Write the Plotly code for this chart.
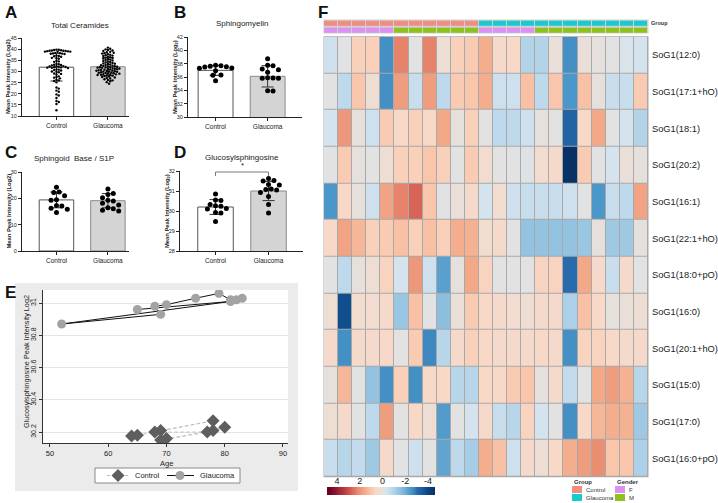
import numpy as np
import plotly.graph_objects as go

W, H = 718, 503
FONT = "Liberation Sans, Arial, sans-serif"

def px(x):
    return x / W

def py(y):
    return 1 - y / H

groups = ["Control", "Glaucoma"]

# ---------------- Panel A: Total Ceramides ----------------
A_ctrl = [39.8, 39.7, 39.6, 39.5, 39.4, 39.3, 39.3, 39.2, 39.1, 39.0, 38.9, 38.9, 38.8,
          38.3, 38.2, 38.1, 38.0, 37.9, 37.8,
          37.1, 36.9, 36.8, 36.6,
          36.1, 35.9, 35.7,
          34.7, 34.5, 34.3,
          33.4, 33.2, 33.0, 32.9, 32.7,
          32.4, 32.3, 32.2, 32.1, 32.0, 31.9, 31.8, 31.7, 31.6, 31.5,
          30.9, 30.8, 30.6, 30.4,
          30.0, 29.8, 29.6,
          29.1, 28.9, 28.6,
          27.8, 27.5, 27.2, 26.9,
          26.3, 26.0, 25.7,
          25.1,
          22.8, 22.3,
          21.4, 20.9,
          19.7, 19.2,
          18.1,
          16.7, 16.3,
          15.4,
          12.6]
A_glc = [40.7, 40.2, 39.9, 39.6, 39.4, 39.2,
         38.8, 38.6, 38.4, 38.2, 38.0,
         37.7, 37.5, 37.3, 37.1, 36.9,
         36.6, 36.4, 36.2, 36.0, 35.8,
         35.5, 35.3, 35.1, 34.9, 34.7,
         34.4, 34.2, 34.0, 33.8, 33.6, 33.5,
         33.3, 33.1, 32.9, 32.8, 32.6, 32.5, 32.3,
         32.2, 32.1, 32.0, 31.9, 31.8, 31.7, 31.6, 31.5,
         31.3, 31.2, 31.1, 31.0, 30.9, 30.8, 30.7, 30.6,
         30.4, 30.3, 30.2, 30.1, 30.0, 29.9, 29.8,
         29.6, 29.5, 29.4, 29.3, 29.2, 29.1, 29.0,
         28.8, 28.7, 28.6, 28.5, 28.4, 28.2, 28.1,
         27.9, 27.7, 27.5, 27.3, 27.1,
         26.8, 26.5, 26.2, 26.0,
         25.6, 25.2,
         24.5]
A_mean = [31.9, 32.1]
A_sd = [6.2, 4.0]

# ---------------- Panel B: Sphingomyelin ----------------
B_ctrl = [37.75, 37.7, 37.6, 37.55, 37.5, 37.35, 37.3, 36.95, 36.3, 36.25, 35.45]
B_glc = [38.75, 37.75, 37.7, 37.2, 37.1, 36.7, 35.9, 35.85, 35.8, 35.8, 33.95, 33.9]
B_mean = [37.0, 36.1]
B_sd = [0.75, 1.6]

# ---------------- Panel C: Sphingoid Base / S1P ----------------
C_ctrl = [24.2, 22.4, 22.2, 21.0, 19.5, 19.3, 17.3, 17.1, 16.2, 15.9, 14.6]
C_glc = [23.5, 21.8, 21.5, 20.2, 19.3, 19.0, 18.1, 17.5, 16.4, 16.0, 15.5, 15.2]
C_mean = [19.4, 19.1]
C_sd = [3.0, 2.7]

# ---------------- Panel D: Glucosylsphingosine ----------------
D_ctrl = [30.85, 30.55, 30.53, 30.33, 30.26, 30.24, 30.12, 30.1, 29.92, 29.9, 29.48]
D_glc = [31.62, 31.52, 31.5, 31.33, 31.3, 31.1, 31.08, 31.05, 30.92, 30.72, 30.33, 29.9]
D_mean = [30.2, 31.0]
D_sd = [0.37, 0.48]

# ---------------- Panel E: age vs glucosylsphingosine ----------------
E_ctrl_age = [64, 65, 78, 69, 68, 77, 70, 69, 78, 80]
E_ctrl_val = [30.175, 30.18, 30.27, 30.21, 30.2, 30.2, 30.16, 30.15, 30.21, 30.23]
E_glc_age = [65, 81, 52, 69, 68, 70, 75, 79, 81, 82, 83]
E_glc_val = [30.96, 31.01, 30.87, 30.93, 30.98, 30.99, 31.03, 31.06, 31.02, 31.02, 31.03]

# ---------------- Panel F: heatmap ----------------
F_rows = ["SoG1(12:0)", "SoG1(17:1+hO)", "SoG1(18:1)", "SoG1(20:2)", "SoG1(16:1)",
          "SoG1(22:1+hO)", "SoG1(18:0+pO)", "SoG1(16:0)", "SoG1(20:1+hO)", "SoG1(15:0)",
          "SoG1(17:0)", "SoG1(16:0+pO)"]
F_group = ["Control", "Control", "Control", "Control", "Control", "Control", "Control",
           "Control", "Control", "Control", "Control",
           "Glaucoma", "Glaucoma", "Glaucoma", "Glaucoma", "Glaucoma", "Glaucoma",
           "Glaucoma", "Glaucoma", "Glaucoma", "Glaucoma", "Glaucoma", "Glaucoma"]
F_gender = ["F", "F", "F", "F", "F", "M", "M", "M", "M", "M", "M",
            "F", "F", "F", "F", "M", "M", "M", "M", "M", "M", "M", "M"]
F_z = [
    [-0.5, 0.0, 0.8, 0.8, -2.6, 2.3, 0.0, 2.3, 0.3, 0.8, 0.9, 1.5, 0.5, 0.6, -1.0, -1.0, 0.2, -2.6, 0.2, 0.1, 0.0, -0.3, -0.4],
    [0.0, -0.8, 1.0, 0.3, -2.6, 1.8, -0.6, 1.8, -0.8, 0.9, 1.0, 1.5, -0.5, -0.5, 1.1, -0.8, 1.0, -2.5, 1.1, 0.1, -0.6, -0.6, 0.9],
    [-0.4, 1.9, 0.1, -0.5, 0.9, 0.6, 0.8, 0.6, 1.6, 0.1, 0.8, 0.0, -0.8, -0.8, -0.5, 0.1, 0.0, -3.3, 0.6, 1.6, 0.0, -0.4, -1.0],
    [0.0, 0.9, 0.1, 0.0, 0.3, 0.8, 0.8, 1.0, 0.8, 0.0, 0.9, 0.4, 0.0, 0.0, -0.1, 0.4, 0.5, -4.5, 0.9, 0.0, -0.4, 0.2, 0.1],
    [-2.5, 0.6, 0.1, -0.5, 1.7, 2.3, 2.7, 1.0, 0.0, 0.2, 0.5, -0.4, 0.4, -0.5, -0.6, -0.6, -0.6, -0.5, 0.0, -2.5, -0.6, -0.8, 1.7],
    [0.6, 1.7, 1.3, 0.8, 0.9, 1.1, 0.8, 1.1, 0.8, 1.5, 1.4, 0.4, 0.5, 0.0, -1.5, -1.5, -1.5, -1.5, -1.4, 0.1, -1.3, -1.3, 0.1],
    [0.0, -0.8, 0.1, 0.3, 0.7, -0.4, 1.9, -0.5, -2.3, 0.1, 1.6, 0.7, 0.0, 0.0, 0.0, 0.7, 0.7, -3.1, 1.6, 0.5, -0.6, 0.5, 0.0],
    [0.3, -3.8, 0.4, 0.4, 0.5, -1.4, 1.1, 0.0, -1.6, 0.2, 0.9, 0.6, 0.5, 0.4, 0.3, 0.5, 0.5, -1.1, 1.1, 0.6, 0.1, 0.2, 0.3],
    [0.5, -2.6, 0.5, 0.5, 0.6, 0.0, 0.9, -2.7, -0.9, 0.5, 0.8, 0.6, 0.5, 0.5, 0.5, 0.6, 0.5, -2.6, 0.7, 0.7, 0.6, 0.5, 0.5],
    [0.1, 1.3, 0.0, -1.5, -2.6, 0.8, -2.6, 0.6, 0.6, -0.9, -0.9, 0.6, 0.6, 0.9, 1.0, 0.1, 0.5, -0.7, 0.0, 1.6, 1.8, 1.4, -0.9],
    [0.3, 0.5, 0.0, -0.8, 1.8, 0.0, 0.6, 0.3, -2.4, 0.0, -0.4, 0.5, -0.6, -0.9, 0.7, -0.4, 0.0, -2.6, 0.6, 1.3, 1.5, 1.4, -1.3],
    [-0.6, -0.9, -0.7, -1.3, 0.5, 0.0, -0.5, 0.0, -2.2, -0.8, -1.2, 1.5, 1.1, -0.5, 0.5, 0.3, 0.6, 1.5, 1.8, 2.1, 1.0, 1.0, -1.1],
]
cb_ticks = [4, 2, 0, -2, -4]

ZMIN, ZMAX = -4.7, 4.7
stops = [(-4.7, "#062A5A"), (-3.8, "#114E8E"), (-3.0, "#2A6FB0"), (-2.5, "#4B97C9"),
         (-1.5, "#93C3E0"), (-0.9, "#B8D6EA"), (-0.4, "#D4E3EE"), (0.0, "#E2E2E2"),
         (0.3, "#EEDDD3"), (0.6, "#F8D9C7"), (1.0, "#F9C6AB"), (1.6, "#F3A887"),
         (2.3, "#E6836A"), (3.0, "#CC4C48"), (4.7, "#6B0020")]
CS = [[(v - ZMIN) / (ZMAX - ZMIN), c] for v, c in stops]

GROUP_COL = {"Control": "#F28B82", "Glaucoma": "#17C9D0"}
GENDER_COL = {"F": "#DC90F2", "M": "#8EC21A"}

CTRL_STYLE = dict(line=dict(color="#BDBDBD", width=1, dash="dot"),
                  marker=dict(symbol="diamond", size=10, color="#5E5E5E"))
GLC_STYLE = dict(line=dict(color="#111111", width=1),
                 marker=dict(symbol="circle", size=9, color="#A3A3A3"))


def swarm(vals, center, ppx, ppy, d):
    order = sorted(range(len(vals)), key=lambda i: -vals[i])
    placed = []
    xs = [0.0] * len(vals)
    step = d * 0.5
    offs = [0.0]
    for j in range(1, 400):
        offs += [j * step, -j * step]
    for i in order:
        yp = vals[i] * ppy
        for o in offs:
            if all((o - a) ** 2 + (yp - b) ** 2 >= d * d * 0.95 for a, b in placed):
                break
        placed.append((o, yp))
        xs[i] = center + o / ppx
    return xs


fig = go.Figure()
layout = dict()
annotations = []
shapes = []

panels = [
    dict(n=1, xd=(22, 129), yd=(38, 116), xr=(-0.67, 1.41), yr=(10, 45),
         yt=[10, 15, 20, 25, 30, 35, 40, 45], mean=A_mean, sd=A_sd, c=A_ctrl, g=A_glc,
         ds=2.4, dd=2.3, title="Total Ceramides", tx=80, ty=26,
         ytitle="Mean Peak Intensity (Log2)", ytx=8),
    dict(n=2, xd=(188, 302), yd=(37, 117), xr=(-0.53, 1.66), yr=(30, 42),
         yt=[30, 32, 34, 36, 38, 40, 42], mean=B_mean, sd=B_sd, c=B_ctrl, g=B_glc,
         ds=5.0, dd=5.4, title="Sphingomyelin", tx=242, ty=24,
         ytitle="Mean Peak Intensity (Log<sub>2</sub>)", ytx=175),
    dict(n=3, xd=(22, 129), yd=(172, 251), xr=(-0.67, 1.41), yr=(0, 30),
         yt=[0, 10, 20, 30], mean=C_mean, sd=C_sd, c=C_ctrl, g=C_glc,
         ds=5.0, dd=5.4, title="Sphingoid  Base / S1P", tx=74, ty=159,
         ytitle="Mean Peak Intensity (Log2)", ytx=8),
    dict(n=4, xd=(180, 303), yd=(171, 251), xr=(-0.67, 1.65), yr=(28, 32),
         yt=[28, 29, 30, 31, 32], mean=D_mean, sd=D_sd, c=D_ctrl, g=D_glc,
         ds=5.0, dd=5.4, title="Glucosylsphingosine", tx=242, ty=157,
         ytitle="Mean Peak Intensity (Log<sub>2</sub>)", ytx=167),
]

for p in panels:
    n = p["n"]
    xa, ya = f"x{n}", f"y{n}"
    ppx = (p["xd"][1] - p["xd"][0]) / (p["xr"][1] - p["xr"][0])
    ppy = (p["yd"][1] - p["yd"][0]) / (p["yr"][1] - p["yr"][0])
    fig.add_trace(go.Bar(
        x=[0, 1], y=p["mean"], width=0.67,
        marker=dict(color=["white", "#D4D4D4"], line=dict(color=["#555555", "#8A8A8A"], width=1)),
        error_y=dict(type="data", array=p["sd"], color="#333333", thickness=1, width=6),
        xaxis=xa, yaxis=ya, showlegend=False, hoverinfo="skip"))
    for k, vals in enumerate([p["c"], p["g"]]):
        xs = swarm(vals, k, ppx, ppy, p["dd"])
        fig.add_trace(go.Scatter(
            x=xs, y=vals, mode="markers",
            marker=dict(color="black", size=p["ds"], line=dict(width=0)),
            xaxis=xa, yaxis=ya, showlegend=False, hoverinfo="skip"))
    layout[f"xaxis{n}"] = dict(
        domain=[px(p["xd"][0]), px(p["xd"][1])], range=list(p["xr"]), anchor=ya, automargin=False,
        showline=True, linecolor="#222222", linewidth=1, ticks="outside", ticklen=3,
        tickcolor="#222222", showgrid=False, zeroline=False,
        tickvals=[0, 1], ticktext=groups, tickfont=dict(size=6.5, family=FONT, color="#222"))
    layout[f"yaxis{n}"] = dict(
        domain=[py(p["yd"][1]), py(p["yd"][0])], range=list(p["yr"]), anchor=xa, automargin=False,
        showline=True, linecolor="#222222", linewidth=1, ticks="outside", ticklen=3,
        tickcolor="#222222", showgrid=False, zeroline=False,
        tickvals=p["yt"], tickfont=dict(size=5.5, family=FONT, color="#222"))
    annotations.append(dict(text=p["title"], x=px(p["tx"]), y=py(p["ty"]), xref="paper", yref="paper",
                            showarrow=False, font=dict(size=8, family=FONT, color="#222"),
                            xanchor="center", yanchor="middle"))
    annotations.append(dict(text="<b>" + p["ytitle"] + "</b>", x=px(p["ytx"]),
                            y=py((p["yd"][0] + p["yd"][1]) / 2), xref="paper", yref="paper",
                            showarrow=False, textangle=-90, font=dict(size=5.8, family=FONT, color="#222"),
                            xanchor="center", yanchor="middle"))

# significance bracket on D
shapes.append(dict(type="path", xref="x4", yref="y4",
                   path="M 0,31.75 L 0,31.95 L 1,31.95 L 1,31.75",
                   line=dict(color="#555", width=0.8)))
annotations.append(dict(text="*", x=0.5, y=31.95, xref="x4", yref="y4", showarrow=False,
                        font=dict(size=8, family=FONT, color="#222"), xanchor="center", yanchor="bottom"))

# ---------------- Panel E ----------------
shapes.append(dict(type="rect", xref="paper", yref="paper", x0=px(15), x1=px(298), y0=py(491), y1=py(283),
                   fillcolor="#EBEBEB", line=dict(width=0), layer="below"))
shapes.append(dict(type="rect", xref="paper", yref="paper", x0=px(43), x1=px(288), y0=py(443), y1=py(290),
                   fillcolor="white", line=dict(width=0), layer="below"))
shapes.append(dict(type="rect", xref="paper", yref="paper", x0=px(95), x1=px(240), y0=py(483), y1=py(468),
                   fillcolor="white", line=dict(color="#8A8A8A", width=1), layer="below"))
fig.add_trace(go.Scatter(x=E_ctrl_age, y=E_ctrl_val, mode="lines+markers", name="Control",
                         xaxis="x5", yaxis="y5", showlegend=False, hoverinfo="skip", **CTRL_STYLE))
fig.add_trace(go.Scatter(x=E_glc_age, y=E_glc_val, mode="lines+markers", name="Glaucoma",
                         xaxis="x5", yaxis="y5", showlegend=False, hoverinfo="skip", **GLC_STYLE))
layout["xaxis5"] = dict(domain=[px(43), px(288)], range=[48.8, 90.86], anchor="y5", automargin=False,
                        showline=True, linecolor="#333", linewidth=1, ticks="outside", ticklen=3,
                        tickcolor="#333", showgrid=False, zeroline=False,
                        tickvals=[50, 60, 70, 80, 90], tickfont=dict(size=7.5, family=FONT, color="#222"))
layout["yaxis5"] = dict(domain=[py(443), py(290)], range=[30.132, 31.081], anchor="x5", automargin=False,
                        showline=True, linecolor="#333", linewidth=1, ticks="outside", ticklen=3,
                        tickcolor="#333", showgrid=True, gridcolor="#E4E4E4", zeroline=False,
                        tickvals=[30.2, 30.4, 30.6, 30.8, 31.0],
                        ticktext=["30.2", "30.4", "30.6", "30.8", "31"], tickangle=-90,
                        tickfont=dict(size=7, family=FONT, color="#222"))
annotations.append(dict(text="Glucosylsphingosine Peak Intensity Log2", x=px(26), y=py(362),
                        xref="paper", yref="paper", showarrow=False, textangle=-90,
                        xanchor="center", yanchor="middle",
                        font=dict(size=7.3, family=FONT, color="#222")))
annotations.append(dict(text="Age", x=px(166), y=py(463), xref="paper", yref="paper",
                        showarrow=False, xanchor="center", yanchor="middle",
                        font=dict(size=7.5, family=FONT, color="#222")))

# E legend key (symbols placed in an overlay axis measured in pixels)
layout["xaxis9"] = dict(domain=[0, 1], range=[0, W], anchor="y9", visible=False, automargin=False)
layout["yaxis9"] = dict(domain=[0, 1], range=[H, 0], anchor="x9", visible=False, automargin=False)
for (x0, x1, xm, lab, style) in [(107, 129, 118, "Control", CTRL_STYLE), (167, 194, 180, "Glaucoma", GLC_STYLE)]:
    fig.add_trace(go.Scatter(x=[x0, x1], y=[475.5, 475.5], mode="lines", line=style["line"],
                             xaxis="x9", yaxis="y9", showlegend=False, hoverinfo="skip", cliponaxis=False))
    fig.add_trace(go.Scatter(x=[xm], y=[475.5], mode="markers", marker=style["marker"],
                             xaxis="x9", yaxis="y9", showlegend=False, hoverinfo="skip", cliponaxis=False))
    annotations.append(dict(text=lab, x=px(x1 + 4), y=py(475.5), xref="paper", yref="paper",
                            showarrow=False, xanchor="left", yanchor="middle",
                            font=dict(size=7.5, family=FONT, color="#222")))

# ---------------- Panel F ----------------
shapes.append(dict(type="rect", xref="paper", yref="paper", x0=px(323.5), x1=px(648.5),
                   y0=py(477.2), y1=py(36.2), fillcolor="#A9A9A9", line=dict(width=0), layer="below"))
shapes.append(dict(type="rect", xref="paper", yref="paper", x0=px(323.5), x1=px(648.5),
                   y0=py(33.5), y1=py(19.5), fillcolor="#D0D0D0", line=dict(width=0), layer="below"))
fig.add_trace(go.Heatmap(
    z=F_z, x=list(range(len(F_group))), y=F_rows, colorscale=CS, zmin=ZMIN, zmax=ZMAX,
    xgap=1, ygap=1, showscale=False, xaxis="x6", yaxis="y6", hoverinfo="skip"))
layout["xaxis6"] = dict(domain=[px(324), px(648)], range=[-0.5, len(F_group) - 0.5], anchor="y6",
                        automargin=False,
                        showticklabels=False, showgrid=False, zeroline=False, showline=False, ticks="")
layout["yaxis6"] = dict(domain=[py(476.7), py(36.7)], autorange="reversed", anchor="x6", side="right",
                        automargin=False, ticklabelstandoff=3,
                        showgrid=False, zeroline=False, showline=False, ticks="",
                        tickfont=dict(size=9.3, family=FONT, color="#222"))

# annotation bars
codes = {"Control": 0, "Glaucoma": 1, "F": 2, "M": 3}
ann_z = [[codes[g] for g in F_group], [codes[g] for g in F_gender]]
cat_cols = [GROUP_COL["Control"], GROUP_COL["Glaucoma"], GENDER_COL["F"], GENDER_COL["M"]]
cat_cs = []
for i, c in enumerate(cat_cols):
    cat_cs += [[i / 4, c], [(i + 1) / 4, c]]
fig.add_trace(go.Heatmap(
    z=ann_z, x=list(range(len(F_group))), y=["<b>Group</b>", "<b>Gender</b>"], colorscale=cat_cs,
    zmin=-0.5, zmax=3.5, xgap=1, ygap=2, showscale=False, xaxis="x6", yaxis="y7", hoverinfo="skip"))
layout["yaxis7"] = dict(domain=[py(33.3), py(19.7)], autorange="reversed", anchor="x6", side="right",
                        automargin=False, ticklabelstandoff=2,
                        showgrid=False, zeroline=False, showline=False, ticks="",
                        tickfont=dict(size=5.5, family=FONT, color="#333"))

# colour key
cb_vals = list(np.linspace(4.88, -4.62, 120))
fig.add_trace(go.Heatmap(
    z=[cb_vals], x=cb_vals, y=[0], colorscale=CS, zmin=ZMIN, zmax=ZMAX, showscale=False,
    xaxis="x8", yaxis="y8", hoverinfo="skip"))
layout["xaxis8"] = dict(domain=[px(327), px(435)], range=[4.88, -4.62], anchor="y8", side="top",
                        automargin=False,
                        tickvals=cb_ticks, ticktext=[str(t) for t in cb_ticks], ticks="",
                        showgrid=False, zeroline=False, showline=False,
                        tickfont=dict(size=9, family=FONT, color="#222"))
layout["yaxis8"] = dict(domain=[py(495), py(487)], range=[-0.5, 0.5], anchor="x8", automargin=False,
                        showticklabels=False, showgrid=False, zeroline=False, showline=False, ticks="")

# group / gender key
annotations.append(dict(text="<b>Group</b>", x=px(572), y=py(482), xref="paper", yref="paper",
                        showarrow=False, xanchor="left", yanchor="middle",
                        font=dict(size=6, family=FONT, color="#333")))
annotations.append(dict(text="<b>Gender</b>", x=px(615), y=py(482), xref="paper", yref="paper",
                        showarrow=False, xanchor="left", yanchor="middle",
                        font=dict(size=6, family=FONT, color="#333")))
key_items = [(572, 486, GROUP_COL["Control"], "Control"), (572, 494, GROUP_COL["Glaucoma"], "Glaucoma"),
             (615, 486, GENDER_COL["F"], "F"), (615, 494, GENDER_COL["M"], "M")]
for x0, y0, col, lab in key_items:
    shapes.append(dict(type="rect", xref="paper", yref="paper", x0=px(x0), x1=px(x0 + 10),
                       y0=py(y0 + 7), y1=py(y0), fillcolor=col, line=dict(width=0)))
    annotations.append(dict(text=lab, x=px(x0 + 12), y=py(y0 + 3.5), xref="paper", yref="paper",
                            showarrow=False, xanchor="left", yanchor="middle",
                            font=dict(size=6, family=FONT, color="#333")))

# panel letters
for lab, x0, y0 in [("A", 3, 1), ("B", 172, 1), ("C", 3, 141), ("D", 172, 141), ("E", 3, 281), ("F", 316, 1)]:
    annotations.append(dict(text="<b>" + lab + "</b>", x=px(x0), y=py(y0), xref="paper", yref="paper",
                            showarrow=False, xanchor="left", yanchor="top",
                            font=dict(size=17, family=FONT, color="#111")))

fig.update_layout(
    width=W, height=H, autosize=False, margin=dict(l=0, r=0, t=0, b=0, autoexpand=False),
    paper_bgcolor="white", plot_bgcolor="rgba(0,0,0,0)", showlegend=False,
    font=dict(family=FONT), annotations=annotations, shapes=shapes, bargap=0, **layout)

fig.write_html("out.html", config={"displayModeBar": False, "staticPlot": True},
               post_script="document.body.style.margin='0px';document.body.style.padding='0px';"
                           "document.body.style.overflow='hidden';")
